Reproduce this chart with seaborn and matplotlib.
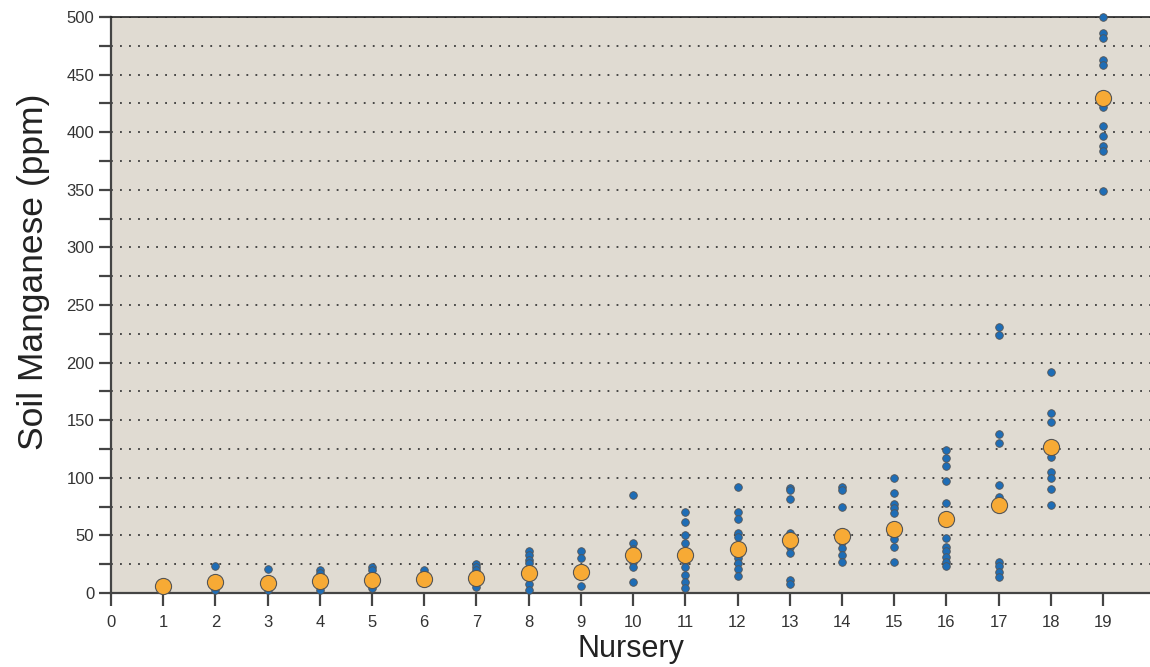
import matplotlib
matplotlib.use("Agg")
import matplotlib.pyplot as plt
import seaborn as sns
import pandas as pd
from matplotlib.ticker import MultipleLocator

# ---- data ----
nurseries = list(range(1, 20))
mean_mn = [6, 9.5, 9, 10, 11, 12, 13, 17, 18, 33, 33, 38, 46, 49.5, 55.6, 64, 76.5, 127, 430]

n01 = [5, 7]
n02 = [23, 3, 9, 12]
n03 = [21, 3, 8, 12]
n04 = [20, 17, 3, 10]
n05 = [22.6, 20, 4.5, 11]
n06 = [20, 12, 10]
n07 = [25, 22.6, 20, 5, 13]
n08 = [36.5, 33, 29, 26, 16, 8, 3]
n09 = [36.5, 30, 22, 6, 18]
n10 = [85, 43.5, 38, 27, 22.6, 9.5]
n11 = [70, 62, 50, 43.5, 28, 22.6, 15.6, 9.5, 4.3]
n12 = [92, 70, 64, 52, 49, 30, 26, 21, 15]
n13 = [91, 89, 82, 52, 40, 35, 11, 8]
n14 = [92, 89.5, 75, 44, 39, 33, 27]
n15 = [100, 87, 77, 74, 69.5, 50, 47, 40, 27]
n16 = [124, 117, 110, 97, 78, 48, 40, 36, 31, 27, 23]
n17 = [231, 224, 138, 130, 94, 83, 80, 27, 23, 18.6, 14]
n18 = [192, 156, 148, 118, 105, 100, 90.5, 76.5]
n19 = [500, 486, 482, 463, 458, 422, 405, 396.5, 388, 383.5, 348.7]

samples = [n01, n02, n03, n04, n05, n06, n07, n08, n09, n10,
           n11, n12, n13, n14, n15, n16, n17, n18, n19]

x_ticks = list(range(0, 20))
y_major = list(range(0, 501, 50))

rows = [(n, v) for n, vals in zip(nurseries, samples) for v in vals]
df_samples = pd.DataFrame(rows, columns=["Nursery", "Mn"])
df_means = pd.DataFrame({"Nursery": nurseries, "Mn": mean_mn})

# ---- style ----
sns.set_theme(style="ticks")
plt.rcParams["font.family"] = ["Liberation Sans", "DejaVu Sans"]

BG = "#e0dbd2"
BLUE = "#1e6db6"
ORANGE = "#f7aa35"
EDGE = "#555555"
AXC = "#444444"

fig = plt.figure(figsize=(11.5, 6.67), dpi=100)
ax = fig.add_axes([0.0965, 0.111, 1.0 - 0.0965, 0.9745 - 0.111])
ax.set_facecolor(BG)

sns.scatterplot(data=df_samples, x="Nursery", y="Mn", ax=ax, s=30,
                color=BLUE, edgecolor=EDGE, linewidth=0.6, zorder=3,
                clip_on=False, legend=False)
sns.scatterplot(data=df_means, x="Nursery", y="Mn", ax=ax, s=135,
                color=ORANGE, edgecolor=EDGE, linewidth=0.8, zorder=4,
                clip_on=False, legend=False)

ax.set_xlim(0, 19.9)
ax.set_ylim(0, 500)
ax.set_xticks(x_ticks)
ax.set_yticks(y_major)
ax.yaxis.set_minor_locator(MultipleLocator(25))

ax.yaxis.grid(True, which="both", linestyle=(0, (1, 4)), color="#3a3a3a",
              linewidth=1.3, zorder=1)
ax.set_axisbelow(True)

ax.tick_params(axis="both", which="both", direction="out", length=9,
               width=1.6, color=AXC, labelsize=12, labelcolor="#333333", pad=3)
ax.tick_params(axis="x", which="major", pad=7)
ax.tick_params(axis="y", which="minor", length=9)

for side in ["left", "bottom"]:
    ax.spines[side].set_color(AXC)
    ax.spines[side].set_linewidth(1.6)
ax.spines["top"].set_color("#222222")
ax.spines["top"].set_linewidth(1.2)
ax.spines["right"].set_visible(False)

ax.set_xlabel("Nursery", fontsize=22, color="#222222", labelpad=3)
ax.set_ylabel("Soil Manganese (ppm)", fontsize=25.5, color="#222222")
ax.yaxis.set_label_coords(-0.059, 0.558)

fig.savefig("out.png", dpi=100, facecolor="white")
